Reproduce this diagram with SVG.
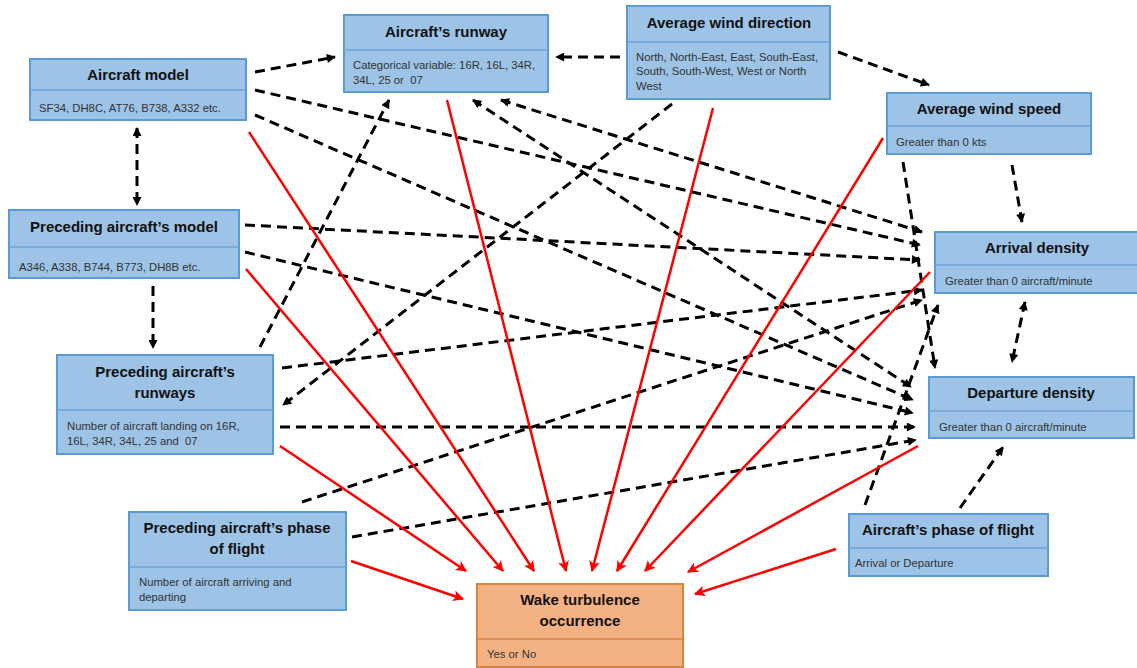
<svg xmlns="http://www.w3.org/2000/svg" width="1137" height="668" viewBox="0 0 1137 668">
<style>
.box{fill:#9DC3E6;stroke:#5B9BD5;stroke-width:2}
.obox{fill:#F4B183;stroke:#D9843F;stroke-width:2}
.dv{stroke:#6FA3D6;stroke-width:1.5}
.odv{stroke:#D9843F;stroke-width:1.5}
.t{font-family:'Liberation Sans',Arial,sans-serif;font-weight:bold;font-size:15px;fill:#111;text-anchor:middle}
.s{font-family:'Liberation Sans',Arial,sans-serif;font-size:11.3px;fill:#333;white-space:pre}
.d{fill:none;stroke:#000;stroke-width:3;stroke-dasharray:10 6;marker-end:url(#ah)}
.dd{marker-start:url(#ah)}
.r{fill:none;stroke:#FF0000;stroke-width:2.5;marker-end:url(#rh)}
</style>
<defs>
<marker id="ah" viewBox="0 0 10 10" refX="9" refY="5" markerWidth="10" markerHeight="9" markerUnits="userSpaceOnUse" orient="auto-start-reverse"><path d="M0,0 L10,5 L0,10 z" fill="#000"/></marker>
<marker id="rh" viewBox="0 0 10 10" refX="9" refY="5" markerWidth="13" markerHeight="11" markerUnits="userSpaceOnUse" orient="auto"><path d="M0,0 L10,5 L0,10 L2.5,5 z" fill="#FF0000"/></marker>
</defs>
<rect width="1137" height="668" fill="#fff"/>
<g id="connectors">
<line class="d" x1="255" y1="72" x2="335" y2="57"/>
<line class="d" x1="620" y1="57" x2="556" y2="57"/>
<line class="d" x1="838" y1="52" x2="929" y2="85"/>
<line class="d dd" x1="137" y1="128" x2="137" y2="205"/>
<line class="d" x1="153" y1="286" x2="153" y2="348"/>
<line class="d" x1="255" y1="90" x2="920" y2="245"/>
<line class="d" x1="255" y1="115" x2="913" y2="400"/>
<line class="d dd" x1="501" y1="100" x2="922" y2="232"/>
<line class="d dd" x1="473" y1="100" x2="911" y2="387"/>
<line class="d" x1="260" y1="347" x2="389" y2="100"/>
<line class="d" x1="672" y1="104" x2="283" y2="405"/>
<line class="d" x1="245" y1="225" x2="920" y2="260"/>
<line class="d" x1="245" y1="252" x2="913" y2="413"/>
<line class="d" x1="282" y1="368" x2="922" y2="290"/>
<line class="d" x1="280" y1="427" x2="915" y2="427"/>
<line class="d" x1="302" y1="502" x2="922" y2="300"/>
<line class="d" x1="352" y1="537" x2="916" y2="440"/>
<line class="d" x1="1012" y1="165" x2="1022" y2="222"/>
<line class="d" x1="903" y1="162" x2="935" y2="368"/>
<line class="d dd" x1="1025" y1="302" x2="1012" y2="362"/>
<line class="d" x1="960" y1="508" x2="1003" y2="447"/>
<line class="d" x1="865" y1="505" x2="938" y2="305"/>
<line class="r" x1="280" y1="446" x2="466" y2="571"/>
<line class="r" x1="246" y1="269" x2="503" y2="571"/>
<line class="r" x1="249" y1="132" x2="534" y2="571"/>
<line class="r" x1="447" y1="100" x2="566" y2="571"/>
<line class="r" x1="713" y1="108" x2="592" y2="571"/>
<line class="r" x1="883" y1="138" x2="617" y2="571"/>
<line class="r" x1="930" y1="272" x2="645" y2="571"/>
<line class="r" x1="918" y1="446" x2="688" y2="572"/>
<line class="r" x1="351" y1="561" x2="463" y2="599"/>
<line class="r" x1="836" y1="549" x2="695" y2="594"/>
</g>
<g id="aircraft-model">
<rect class="box" x="30" y="59" width="216" height="61"/>
<line class="dv" x1="30" y1="90" x2="246" y2="90"/>
<text class="t" x="138" y="80">Aircraft model</text>
<text class="s" x="39" y="112">SF34, DH8C, AT76, B738, A332 etc.</text>
</g>
<g id="aircraft-runway">
<rect class="box" x="344" y="15" width="204" height="77"/>
<line class="dv" x1="344" y1="50" x2="548" y2="50"/>
<text class="t" x="446" y="37">Aircraft’s runway</text>
<text class="s" x="353" y="69">Categorical variable: 16R, 16L, 34R,</text>
<text class="s" x="353" y="84">34L, 25 or  07</text>
</g>
<g id="wind-direction">
<rect class="box" x="627" y="6" width="203" height="93"/>
<line class="dv" x1="627" y1="42" x2="830" y2="42"/>
<text class="t" x="729" y="28">Average wind direction</text>
<text class="s" x="636" y="61">North, North-East, East, South-East,</text>
<text class="s" x="636" y="75">South, South-West, West or North</text>
<text class="s" x="636" y="90">West</text>
</g>
<g id="wind-speed">
<rect class="box" x="887" y="93" width="204" height="61"/>
<line class="dv" x1="887" y1="126" x2="1091" y2="126"/>
<text class="t" x="989" y="114">Average wind speed</text>
<text class="s" x="896" y="146">Greater than 0 kts</text>
</g>
<g id="preceding-model">
<rect class="box" x="9" y="210" width="230" height="68"/>
<line class="dv" x1="9" y1="247" x2="239" y2="247"/>
<text class="t" x="124" y="232">Preceding aircraft’s model</text>
<text class="s" x="19" y="271">A346, A338, B744, B773, DH8B etc.</text>
</g>
<g id="arrival-density">
<rect class="box" x="935" y="232" width="203" height="61"/>
<line class="dv" x1="935" y1="265" x2="1137" y2="265"/>
<text class="t" x="1037" y="253">Arrival density</text>
<text class="s" x="945" y="285">Greater than 0 aircraft/minute</text>
</g>
<g id="preceding-runways">
<rect class="box" x="57" y="355" width="216" height="99"/>
<line class="dv" x1="57" y1="410" x2="273" y2="410"/>
<text class="t" x="165" y="377">Preceding aircraft’s</text>
<text class="t" x="165" y="398">runways</text>
<text class="s" x="67" y="430">Number of aircraft landing on 16R,</text>
<text class="s" x="67" y="445">16L, 34R, 34L, 25 and  07</text>
</g>
<g id="departure-density">
<rect class="box" x="929" y="377" width="205" height="61"/>
<line class="dv" x1="929" y1="411" x2="1134" y2="411"/>
<text class="t" x="1031" y="398">Departure density</text>
<text class="s" x="939" y="431">Greater than 0 aircraft/minute</text>
</g>
<g id="preceding-phase">
<rect class="box" x="129" y="512" width="217" height="98"/>
<line class="dv" x1="129" y1="567" x2="346" y2="567"/>
<text class="t" x="237" y="533">Preceding aircraft’s phase</text>
<text class="t" x="237" y="554">of flight</text>
<text class="s" x="139" y="586">Number of aircraft arriving and</text>
<text class="s" x="139" y="601">departing</text>
</g>
<g id="aircraft-phase">
<rect class="box" x="849" y="514" width="199" height="62"/>
<line class="dv" x1="849" y1="548" x2="1048" y2="548"/>
<text class="t" x="948" y="535">Aircraft’s phase of flight</text>
<text class="s" x="855" y="567">Arrival or Departure</text>
</g>
<g id="wake-turbulence">
<rect class="obox" x="477" y="584" width="206" height="83"/>
<line class="odv" x1="477" y1="639" x2="683" y2="639"/>
<text class="t" x="580" y="605">Wake turbulence</text>
<text class="t" x="580" y="626">occurrence</text>
<text class="s" x="487" y="658">Yes or No</text>
</g>
</svg>
